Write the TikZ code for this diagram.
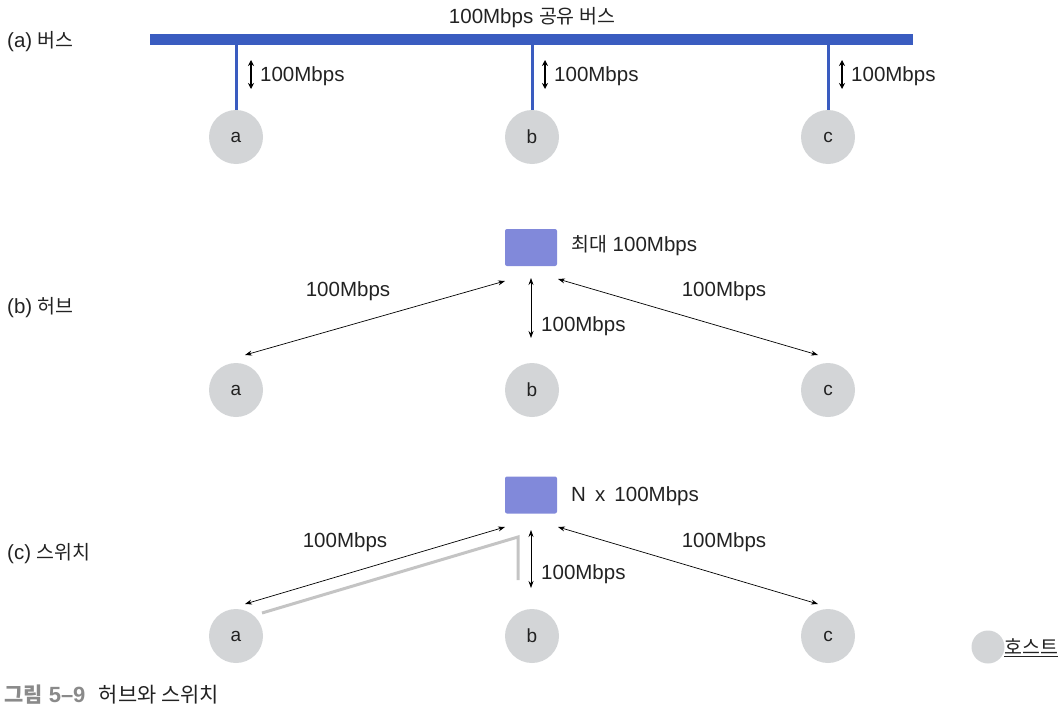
\documentclass[tikz,border=0pt]{standalone}
\usepackage{fontspec}
\setmainfont{Liberation Sans}
\newfontfamily\ko[Scale=0.95]{Noto Sans CJK KR}
\usetikzlibrary{arrows.meta}
\definecolor{busblue}{HTML}{3A5CC0}
\definecolor{hubblue}{HTML}{8189DA}
\definecolor{hostgray}{HTML}{D3D5D7}
\definecolor{pathgray}{HTML}{C4C4C4}
\definecolor{capgray}{HTML}{8A8A8A}
\definecolor{txt}{HTML}{222222}
\tikzset{
  host/.style={circle,fill=hostgray,minimum size=54pt,inner sep=0pt,font=\fontsize{19}{19}\selectfont,text=txt},
  hubbox/.style={rectangle,rounded corners=2pt,fill=hubblue,minimum width=52pt,minimum height=37pt,inner sep=0pt},
  lbl/.style={font=\fontsize{20.5}{22}\selectfont,text=txt,inner sep=0pt},
  link/.style={{Stealth[length=7pt,width=5pt]}-{Stealth[length=7pt,width=5pt]},line width=0.7pt,black},
  drop/.style={line width=3pt,busblue},
  bidir/.style={{Stealth[length=6pt,width=6pt]}-{Stealth[length=6pt,width=6pt]},line width=1.6pt,black},
}
\begin{document}
\begin{tikzpicture}[x=1pt,y=-1pt]
\useasboundingbox (0,0) rectangle (1063,712);
% section labels
\node[lbl,anchor=west] (la) at (7,42) {(a) {\ko 버스}};
\node[lbl,anchor=west] (lb) at (7,308) {(b) {\ko 허브}};
\node[lbl,anchor=west] (lc) at (7,554) {(c) {\ko 스위치}};
% (a) bus
\node[fill=busblue,minimum width=763pt,minimum height=11pt,inner sep=0pt] (bus) at (531.5,39.5) {};
\node[lbl] (bustxt) at (532,18) {100Mbps {\ko 공유 버스}};
\node[host] (a1) at (236,137) {a};
\node[host] (b1) at (532,137) {b};
\node[host] (c1) at (828,137) {c};
\foreach \h in {a1,b1,c1}{
  \draw[drop] (\h.north |- bus.south) -- (\h.north);
}
\foreach \h/\x in {a1/251,b1/545,c1/842}{
  \coordinate (\h t) at (\x,60);
  \coordinate (\h b) at (\x,89);
  \draw[bidir] (\h t) -- (\h b);
  \node[lbl,anchor=west] (\h l) at (\x+9,76) {100Mbps};
}
% (b) hub
\node[hubbox] (hub) at (531,247.5) {};
\node[lbl,anchor=west] (hubl) at (571,246) {{\ko 최대} 100Mbps};
\node[host] (a2) at (236,390) {a};
\node[host] (b2) at (532,390) {b};
\node[host] (c2) at (828,390) {c};
\coordinate (ha) at (505,281);
\coordinate (ha2) at (245,355);
\coordinate (hb) at (531,278);
\coordinate (hb2) at (531,338);
\coordinate (hc) at (558,279);
\coordinate (hc2) at (818,355);
\draw[link] (ha2) -- (ha);
\draw[link] (hb) -- (hb2);
\draw[link] (hc) -- (hc2);
\node[lbl] (hal) at (348,291) {100Mbps};
\node[lbl,anchor=west] (hbl) at (541,326) {100Mbps};
\node[lbl] (hcl) at (724,291) {100Mbps};
% (c) switch
\node[hubbox] (sw) at (531,495) {};
\node[lbl,anchor=west] (swl) at (571,496) {N\, x\, 100Mbps};
\node[host] (a3) at (236,636) {a};
\node[host] (b3) at (532,636) {b};
\node[host] (c3) at (828,636) {c};
\coordinate (sa) at (505,527);
\coordinate (sa2) at (245,604);
\coordinate (sb) at (531,530);
\coordinate (sb2) at (531,588);
\coordinate (sc) at (558,527);
\coordinate (sc2) at (818,604);
\draw[link] (sa2) -- (sa);
\draw[link] (sb) -- (sb2);
\draw[link] (sc) -- (sc2);
\coordinate (g1) at (262,613);
\coordinate (g2) at (518,537);
\coordinate (g3) at (518,580);
\draw[pathgray,line width=3pt] (g1) -- (g2) -- (g3);
\node[lbl] (sal) at (345,542) {100Mbps};
\node[lbl,anchor=west] (sbl) at (541,574) {100Mbps};
\node[lbl] (scl) at (724,542) {100Mbps};
% legend
\node[host,minimum size=33pt] (leg) at (988,647) {};
\node[lbl,anchor=west] (legl) at (1004,648) {\underline{\ko 호스트}};
% caption
\node[lbl,anchor=west,font=\fontsize{22}{24}\selectfont] (cap) at (4,695) {\textcolor{capgray}{\bfseries{\ko\bfseries 그림} 5–9}\,\, \textcolor{txt}{\ko 허브와 스위치}};
\end{tikzpicture}
\end{document}
